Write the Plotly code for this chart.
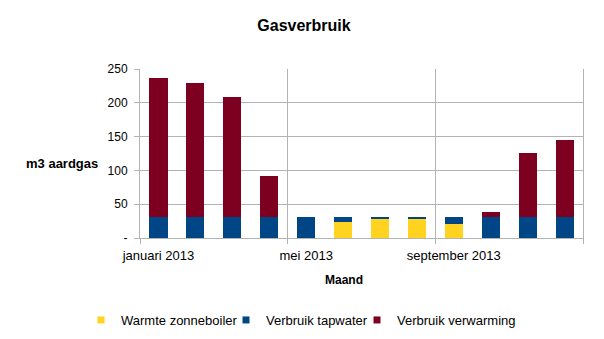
import plotly.graph_objects as go

# Monthly gas usage (m3) for 2013, split by purpose
months = ["januari", "februari", "maart", "april", "mei", "juni", "juli",
          "augustus", "september", "oktober", "november", "december"]
zonneboiler = [0, 0, 0, 0, 0, 24, 29.5, 29.5, 21, 0, 0, 0]
tapwater = [31, 31, 31, 31, 31, 7, 1.5, 1.5, 10, 31, 31, 31]
verwarming = [205, 198, 178, 60, 0, 0, 0, 0, 0, 8, 95, 114]

tick_months = [0, 4, 8]
tick_labels = ["januari 2013", "mei 2013", "september 2013"]
y_ticks = [0, 50, 100, 150, 200, 250]
y_labels = ["-", "50", "100", "150", "200", "250"]

series_names = ["Warmte zonneboiler", "Verbruik tapwater", "Verbruik verwarming"]
series_colors = ["#FFD320", "#004586", "#7E0021"]
series_values = [zonneboiler, tapwater, verwarming]

W, H = 604, 339
FONT = "Liberation Sans, Arial, sans-serif"
GRID = "#b3b3b3"

x = list(range(len(months)))

fig = go.Figure()
for name, color, vals in zip(series_names, series_colors, series_values):
    fig.add_trace(go.Bar(x=x, y=vals, name=name, marker=dict(color=color, line=dict(width=0)),
                         showlegend=False))

# legend entries: small square keys, one legend box per series
legend_ids = ["legend", "legend2", "legend3"]
text_left = [121, 266, 397]
for name, color, lid in zip(series_names, series_colors, legend_ids):
    fig.add_trace(go.Scatter(x=[None], y=[None], mode="markers", name=name,
                             marker=dict(symbol="square", size=7, color=color),
                             legend=lid, showlegend=True))

legend_common = dict(xref="container", yref="container", yanchor="middle", xanchor="left",
                     font=dict(family=FONT, size=13, color="#000"),
                     bgcolor="rgba(0,0,0,0)", borderwidth=0, orientation="h")
legend_layout = {}
for lid, tx in zip(legend_ids, text_left):
    legend_layout[lid] = dict(legend_common, x=(tx - 40) / W, y=1 - 320 / H)

fig.update_layout(
    width=W, height=H,
    margin=dict(l=139.5, r=W - 583.5, t=69.3, b=H - 238.3, pad=0),
    paper_bgcolor="white", plot_bgcolor="white",
    barmode="stack", bargap=0.51,
    font=dict(family=FONT, size=13, color="#000"),
    title=dict(text="<b>Gasverbruik</b>", xref="container", yref="container",
               x=304 / W, y=1 - 25.7 / H, xanchor="center", yanchor="middle",
               font=dict(family=FONT, size=16, color="#000")),
    xaxis=dict(range=[-0.5, len(months) - 0.5], tickmode="array", tickvals=tick_months,
               ticktext=tick_labels, ticks="", showgrid=False, zeroline=False,
               showline=True, linecolor=GRID, linewidth=1, ticklabelstandoff=5,
               tickfont=dict(family=FONT, size=13, color="#000"),
               minor=dict(tickmode="array", tickvals=[-0.5, 3.5, 7.5, 11.5],
                          ticks="outside", ticklen=5, tickcolor=GRID,
                          showgrid=True, gridcolor=GRID, gridwidth=1)),
    yaxis=dict(range=[0, 250], tickmode="array", tickvals=y_ticks, ticktext=y_labels,
               ticks="outside", ticklen=5, tickcolor=GRID, showgrid=True, gridcolor=GRID,
               zeroline=False, showline=True, linecolor=GRID, linewidth=1, mirror=True,
               ticklabelstandoff=4,
               tickfont=dict(family=FONT, size=12, color="#000")),
    annotations=[
        dict(text="<b>m3 aardgas</b>", xref="paper", yref="paper",
             x=(61 - 139.5) / 444, y=(238.3 - 164) / 169, xanchor="center", yanchor="middle",
             showarrow=False, font=dict(family=FONT, size=13, color="#000")),
        dict(text="<b>Maand</b>", xref="paper", yref="paper",
             x=(344 - 139.5) / 444, y=(238.3 - 280.7) / 169, xanchor="center", yanchor="middle",
             showarrow=False, font=dict(family=FONT, size=12, color="#000")),
    ],
    **legend_layout,
)

fig.write_html("out.html")
